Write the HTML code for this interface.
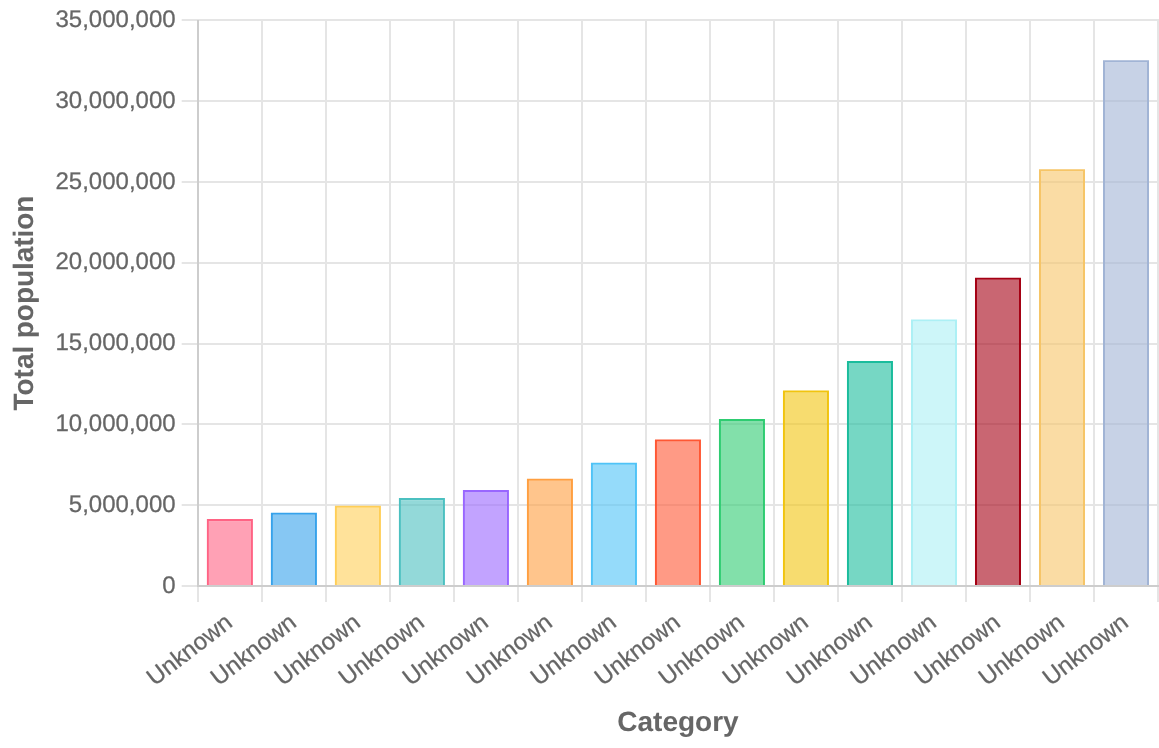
<!DOCTYPE html>
<html><head><meta charset="utf-8"><title>Chart</title>
<style>
html,body{margin:0;padding:0;background:#fff;}
body{width:1159px;height:748px;overflow:hidden;}
svg{display:block;}
text{font-family:"Liberation Sans",Arial,Helvetica,sans-serif;fill:#666;stroke:#666;stroke-width:0.28px;text-rendering:geometricPrecision;}
.t{font-size:24px;}
.b{font-size:28px;font-weight:bold;stroke-width:0.05px;}
</style></head><body>
<svg width="1159" height="748" viewBox="0 0 1159 748">
<rect width="1159" height="748" fill="#fff"/>

<g shape-rendering="crispEdges">
<rect x="197" y="20" width="2" height="582" fill="#e5e5e5"/>
<rect x="261" y="20" width="2" height="582" fill="#e5e5e5"/>
<rect x="325" y="20" width="2" height="582" fill="#e5e5e5"/>
<rect x="389" y="20" width="2" height="582" fill="#e5e5e5"/>
<rect x="453" y="20" width="2" height="582" fill="#e5e5e5"/>
<rect x="517" y="20" width="2" height="582" fill="#e5e5e5"/>
<rect x="581" y="20" width="2" height="582" fill="#e5e5e5"/>
<rect x="645" y="20" width="2" height="582" fill="#e5e5e5"/>
<rect x="709" y="20" width="2" height="582" fill="#e5e5e5"/>
<rect x="773" y="20" width="2" height="582" fill="#e5e5e5"/>
<rect x="837" y="20" width="2" height="582" fill="#e5e5e5"/>
<rect x="901" y="20" width="2" height="582" fill="#e5e5e5"/>
<rect x="965" y="20" width="2" height="582" fill="#e5e5e5"/>
<rect x="1029" y="20" width="2" height="582" fill="#e5e5e5"/>
<rect x="1093" y="20" width="2" height="582" fill="#e5e5e5"/>
<rect x="1157" y="20" width="2" height="582" fill="#e5e5e5"/>
<rect x="182" y="19" width="977" height="2" fill="#e5e5e5"/>
<rect x="182" y="100" width="977" height="2" fill="#e5e5e5"/>
<rect x="182" y="181" width="977" height="2" fill="#e5e5e5"/>
<rect x="182" y="262" width="977" height="2" fill="#e5e5e5"/>
<rect x="182" y="343" width="977" height="2" fill="#e5e5e5"/>
<rect x="182" y="423" width="977" height="2" fill="#e5e5e5"/>
<rect x="182" y="504" width="977" height="2" fill="#e5e5e5"/>
<rect x="182" y="585" width="977" height="2" fill="#e5e5e5"/>
</g><g>
<rect x="181.7" y="19" width="0.3" height="2" fill="#e5e5e5"/>
<rect x="181.7" y="100" width="0.3" height="2" fill="#e5e5e5"/>
<rect x="181.7" y="181" width="0.3" height="2" fill="#e5e5e5"/>
<rect x="181.7" y="262" width="0.3" height="2" fill="#e5e5e5"/>
<rect x="181.7" y="343" width="0.3" height="2" fill="#e5e5e5"/>
<rect x="181.7" y="423" width="0.3" height="2" fill="#e5e5e5"/>
<rect x="181.7" y="504" width="0.3" height="2" fill="#e5e5e5"/>
<rect x="181.7" y="585" width="0.3" height="2" fill="#e5e5e5"/>
</g><g shape-rendering="crispEdges">
<rect x="197" y="20" width="2" height="567" fill="#cdcdcd"/>
<rect x="197" y="585" width="962" height="2" fill="#cdcdcd"/>
</g>
<rect x="208.90" y="521.05" width="42.00" height="63.95" fill="rgba(255,99,132,0.6)"/>
<path d="M206.90 585V519.05H252.90V585H250.90V521.05H208.90V585Z" fill="rgb(255,99,132)"/>
<rect x="272.91" y="514.85" width="42.00" height="70.15" fill="rgba(54,162,235,0.6)"/>
<path d="M270.91 585V512.85H316.91V585H314.91V514.85H272.91V585Z" fill="rgb(54,162,235)"/>
<rect x="336.91" y="507.8" width="42.00" height="77.2" fill="rgba(255,206,86,0.6)"/>
<path d="M334.91 585V505.8H380.91V585H378.91V507.8H336.91V585Z" fill="rgb(255,206,86)"/>
<rect x="400.92" y="500.1" width="42.00" height="84.9" fill="rgba(75,192,192,0.6)"/>
<path d="M398.92 585V498.1H444.92V585H442.92V500.1H400.92V585Z" fill="rgb(75,192,192)"/>
<rect x="464.93" y="492" width="42.00" height="93" fill="rgba(153,102,255,0.6)"/>
<path d="M462.93 585V490H508.93V585H506.93V492H464.93V585Z" fill="rgb(153,102,255)"/>
<rect x="528.94" y="480.8" width="42.00" height="104.2" fill="rgba(255,159,64,0.6)"/>
<path d="M526.94 585V478.8H572.94V585H570.94V480.8H528.94V585Z" fill="rgb(255,159,64)"/>
<rect x="592.94" y="464.7" width="42.00" height="120.3" fill="rgba(79,195,247,0.6)"/>
<path d="M590.94 585V462.7H636.94V585H634.94V464.7H592.94V585Z" fill="rgb(79,195,247)"/>
<rect x="656.95" y="441.4" width="42.00" height="143.6" fill="rgba(255,87,51,0.6)"/>
<path d="M654.95 585V439.4H700.95V585H698.95V441.4H656.95V585Z" fill="rgb(255,87,51)"/>
<rect x="720.96" y="420.95" width="42.00" height="164.05" fill="rgba(46,204,113,0.6)"/>
<path d="M718.96 585V418.95H764.96V585H762.96V420.95H720.96V585Z" fill="rgb(46,204,113)"/>
<rect x="784.96" y="392.4" width="42.00" height="192.6" fill="rgba(241,196,15,0.6)"/>
<path d="M782.96 585V390.4H828.96V585H826.96V392.4H784.96V585Z" fill="rgb(241,196,15)"/>
<rect x="848.97" y="362.9" width="42.00" height="222.1" fill="rgba(26,188,156,0.6)"/>
<path d="M846.97 585V360.9H892.97V585H890.97V362.9H848.97V585Z" fill="rgb(26,188,156)"/>
<rect x="912.98" y="321.45" width="42.00" height="263.55" fill="rgba(172,240,245,0.6)"/>
<path d="M910.98 585V319.45H956.98V585H954.98V321.45H912.98V585Z" fill="rgb(172,240,245)"/>
<rect x="976.99" y="279.8" width="42.00" height="305.2" fill="rgba(165,0,20,0.6)"/>
<path d="M974.99 585V277.8H1020.99V585H1018.99V279.8H976.99V585Z" fill="rgb(165,0,20)"/>
<rect x="1040.99" y="171.25" width="42.00" height="413.75" fill="rgba(246,197,103,0.6)"/>
<path d="M1038.99 585V169.25H1084.99V585H1082.99V171.25H1040.99V585Z" fill="rgb(246,197,103)"/>
<rect x="1105.00" y="62.27" width="42.00" height="522.73" fill="rgba(161,180,213,0.6)"/>
<path d="M1103.00 585V60.27H1149.00V585H1147.00V62.27H1105.00V585Z" fill="rgb(161,180,213)"/>
<text class="t" x="175.6" y="27" text-anchor="end">35,000,000</text>
<text class="t" x="175.6" y="108" text-anchor="end">30,000,000</text>
<text class="t" x="175.6" y="189" text-anchor="end">25,000,000</text>
<text class="t" x="175.6" y="269" text-anchor="end">20,000,000</text>
<text class="t" x="175.6" y="350" text-anchor="end">15,000,000</text>
<text class="t" x="175.6" y="431" text-anchor="end">10,000,000</text>
<text class="t" x="175.6" y="512" text-anchor="end">5,000,000</text>
<text class="t" x="175.6" y="593" text-anchor="end">0</text>
<text class="t" transform="translate(219.9 607.44) rotate(-37.7)" x="0" y="22.70" text-anchor="end">Unknown</text>
<text class="t" transform="translate(283.9 607.44) rotate(-37.7)" x="0" y="22.70" text-anchor="end">Unknown</text>
<text class="t" transform="translate(347.9 607.44) rotate(-37.7)" x="0" y="22.70" text-anchor="end">Unknown</text>
<text class="t" transform="translate(411.9 607.44) rotate(-37.7)" x="0" y="22.70" text-anchor="end">Unknown</text>
<text class="t" transform="translate(475.9 607.44) rotate(-37.7)" x="0" y="22.70" text-anchor="end">Unknown</text>
<text class="t" transform="translate(539.9 607.44) rotate(-37.7)" x="0" y="22.70" text-anchor="end">Unknown</text>
<text class="t" transform="translate(603.9 607.44) rotate(-37.7)" x="0" y="22.70" text-anchor="end">Unknown</text>
<text class="t" transform="translate(667.9 607.44) rotate(-37.7)" x="0" y="22.70" text-anchor="end">Unknown</text>
<text class="t" transform="translate(731.9 607.44) rotate(-37.7)" x="0" y="22.70" text-anchor="end">Unknown</text>
<text class="t" transform="translate(795.9 607.44) rotate(-37.7)" x="0" y="22.70" text-anchor="end">Unknown</text>
<text class="t" transform="translate(859.9 607.44) rotate(-37.7)" x="0" y="22.70" text-anchor="end">Unknown</text>
<text class="t" transform="translate(923.9 607.44) rotate(-37.7)" x="0" y="22.70" text-anchor="end">Unknown</text>
<text class="t" transform="translate(987.9 607.44) rotate(-37.7)" x="0" y="22.70" text-anchor="end">Unknown</text>
<text class="t" transform="translate(1051.9 607.44) rotate(-37.7)" x="0" y="22.70" text-anchor="end">Unknown</text>
<text class="t" transform="translate(1115.9 607.44) rotate(-37.7)" x="0" y="22.70" text-anchor="end">Unknown</text>
<text class="b" transform="translate(23 303.05) rotate(-90)" x="0" y="9.5" text-anchor="middle" letter-spacing="-0.06">Total population</text>
<text class="b" x="678" y="731" text-anchor="middle">Category</text>
</svg></body></html>
